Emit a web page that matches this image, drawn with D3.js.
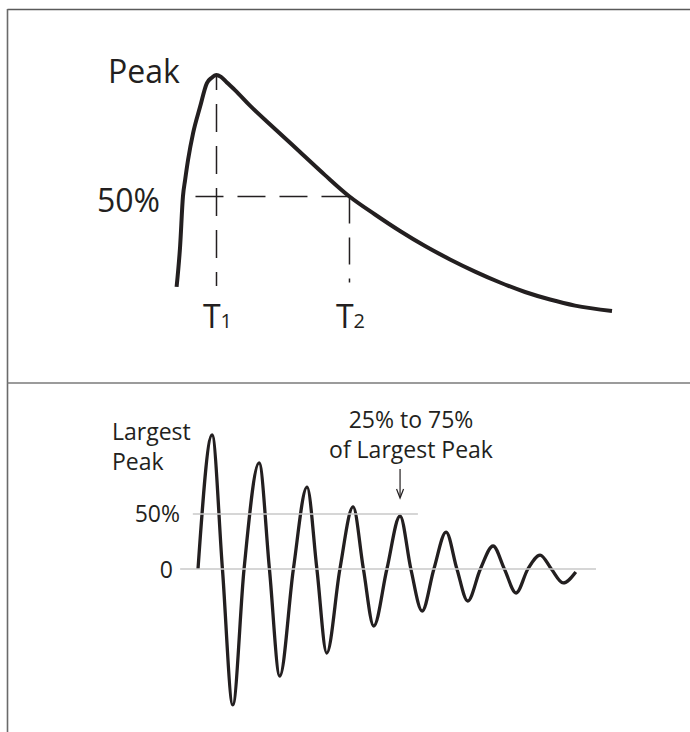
<!DOCTYPE html>
<html>
<head>
<meta charset="utf-8">
<script src="https://cdn.jsdelivr.net/npm/d3@7"></script>
<style>
  html, body { margin: 0; padding: 0; background: #fff; }
  svg { display: block; }
  text { font-family: "Open Sans", "Noto Sans", sans-serif; fill: #231f20; }
</style>
</head>
<body>
<svg id="chart" width="690" height="732"></svg>
<script>
// ---------- Top panel: single pulse (time units, % of peak) ----------
const pulseTime  = [0, 1.3, 2.4, 3.2, 4.3, 6.2, 8.8, 11.4, 13.1, 15, 16.7, 18.9, 21.95, 27.6, 37.0, 46.4, 55.8, 65, 74.6, 84.0, 93.4, 102.8, 112.2, 121.6, 131.0, 140.4, 149.8, 163.7];
const pulseValue = [12.8, 29.2, 50.2, 56.8, 65.0, 76.1, 86.8, 96.7, 98.8, 100, 99.2, 96.9, 93.8, 87.4, 77.8, 68.3, 58.8, 50, 42.6, 35.8, 29.6, 24.1, 19.1, 14.6, 10.7, 7.6, 5.1, 2.9];
const markerTimes  = [15, 65];          // T1, T2
const markerLabels = ["1", "2"];        // subscripts of T
const halfLevel = 50;
const halfLineStart = 6.9;
const dropEnds = [13.2, 14.6];

// ---------- Bottom panel: damped oscillation (time units, % scale) ----------
const waveTime  = [0, 3.0, 5.2, 7.4, 9.8, 13.0, 15.2, 17.4, 20.3, 23.2, 25.3, 27.4, 30.2, 33.0, 35.2, 37.4, 40.2, 43.0, 45.3, 47.7, 50.2, 52.8, 55.1, 57.4, 60.1, 62.8, 65.2, 67.7, 70.2, 72.8, 75.2, 77.7, 80.4];
const waveValue = [0, 121.8, 0, -123.6, 0, 96.4, 0, -97.3, 0, 74.5, 0, -76.4, 0, 56.4, 0, -51.8, 0, 48.2, 0, -38.2, 0, 33.6, 0, -29.1, 0, 20.9, 0, -21.8, 0, 12.7, 0, -12.7, -2.7];
const waveTickValues = [50, 0];
const waveTickLabels = ["50%", "0"];
const refLineRanges = [[-1.1, 46.8], [-3.8, 84.7]];   // 50% line, zero line
const arrowTime = 43.0;
const annotationLines = ["25% to 75%", "of Largest Peak"];
const largestLines = ["Largest", "Peak"];

const svg = d3.select("#chart");
const ink = "#231f20";

// frame
svg.append("line").attr("x1", 7.5).attr("x2", 690).attr("y1", 9.5).attr("y2", 9.5)
  .attr("stroke", "#5a5a5a").attr("stroke-width", 1.6);
svg.append("line").attr("x1", 7.5).attr("x2", 7.5).attr("y1", 9).attr("y2", 732)
  .attr("stroke", "#6a6a6a").attr("stroke-width", 1.6);
svg.append("line").attr("x1", 7.5).attr("x2", 690).attr("y1", 383).attr("y2", 383)
  .attr("stroke", "#7a7a7a").attr("stroke-width", 1.6);

// ===== Top panel =====
const xT = d3.scaleLinear().domain([0, 164]).range([176.6, 612.8]);
const yT = d3.scaleLinear().domain([0, 100]).range([318, 75]);

const pulse = pulseTime.map((t, i) => [t, pulseValue[i]]);
const gTop = svg.append("g");

const dashW = 1.5;
// horizontal 50% line, drawn from T2 leftwards
gTop.append("line")
  .attr("x1", xT(markerTimes[1])).attr("x2", xT(halfLineStart))
  .attr("y1", yT(halfLevel)).attr("y2", yT(halfLevel))
  .attr("stroke", ink).attr("stroke-width", dashW)
  .attr("stroke-dasharray", "28,14");
// T1 drop line drawn from bottom upward
gTop.append("line")
  .attr("x1", xT(markerTimes[0])).attr("x2", xT(markerTimes[0]))
  .attr("y1", yT(dropEnds[0])).attr("y2", yT(100) + 1)
  .attr("stroke", ink).attr("stroke-width", dashW)
  .attr("stroke-dasharray", "28,14").attr("stroke-dashoffset", 14);
// T2 drop line drawn from 50% downward
gTop.append("line")
  .attr("x1", xT(markerTimes[1])).attr("x2", xT(markerTimes[1]))
  .attr("y1", yT(halfLevel)).attr("y2", yT(dropEnds[1]))
  .attr("stroke", ink).attr("stroke-width", dashW)
  .attr("stroke-dasharray", "27,14");

// pulse curve
gTop.append("path")
  .datum(pulse)
  .attr("d", d3.line().x(d => xT(d[0])).y(d => yT(d[1])).curve(d3.curveMonotoneX))
  .attr("fill", "none").attr("stroke", ink).attr("stroke-width", 4)
  .attr("stroke-linejoin", "round");

// labels
gTop.append("text").attr("x", 108).attr("y", 83)
  .attr("font-size", 32).text("Peak");
gTop.append("text").attr("x", 160).attr("y", 212).attr("text-anchor", "end")
  .attr("font-size", 32).text("50%");
markerTimes.forEach((t, i) => {
  const tx = gTop.append("text").attr("x", xT(t) + 1).attr("y", 328)
    .attr("text-anchor", "middle").attr("font-size", 32);
  tx.append("tspan").text("T");
  tx.append("tspan").attr("font-size", 20).text(markerLabels[i]);
});

// ===== Bottom panel =====
const xB = d3.scaleLinear().domain([0, 84.7]).range([198, 596]);
const yB = d3.scaleLinear().domain([0, 50]).range([569, 514]);
const wave = waveTime.map((t, i) => [t, waveValue[i]]);
const gBot = svg.append("g");

gBot.append("path")
  .datum(wave)
  .attr("d", d3.line().x(d => xB(d[0])).y(d => yB(d[1])).curve(d3.curveMonotoneX))
  .attr("fill", "none").attr("stroke", ink).attr("stroke-width", 3.3)
  .attr("stroke-linejoin", "round");

// reference lines (drawn over the wave)
waveTickValues.forEach((v, i) => {
  gBot.append("line")
    .attr("x1", xB(refLineRanges[i][0])).attr("x2", xB(refLineRanges[i][1]))
    .attr("y1", yB(v)).attr("y2", yB(v))
    .attr("stroke", "#c9c9c9").attr("stroke-width", 1.3);
});

// tick labels
gBot.append("text").attr("x", 180).attr("y", yB(waveTickValues[0]) + 8)
  .attr("text-anchor", "end").attr("font-size", 23).text(waveTickLabels[0]);
gBot.append("text").attr("x", 173).attr("y", yB(waveTickValues[1]) + 9)
  .attr("text-anchor", "end").attr("font-size", 23).text(waveTickLabels[1]);

// "Largest Peak"
largestLines.forEach((s, i) => {
  gBot.append("text").attr("x", 112).attr("y", 440 + i * 30)
    .attr("font-size", 23).text(s);
});

// annotation
annotationLines.forEach((s, i) => {
  gBot.append("text").attr("x", 411).attr("y", 428 + i * 30)
    .attr("text-anchor", "middle").attr("font-size", 23).text(s);
});

// arrow
const ax = xB(arrowTime);
gBot.append("line").attr("x1", ax).attr("x2", ax).attr("y1", 469).attr("y2", 497)
  .attr("stroke", ink).attr("stroke-width", 1.2);
gBot.append("path")
  .attr("d", `M${ax - 3.5},489 L${ax},498 L${ax + 3.5},489`)
  .attr("fill", "none").attr("stroke", ink).attr("stroke-width", 1.2);
</script>
</body>
</html>
